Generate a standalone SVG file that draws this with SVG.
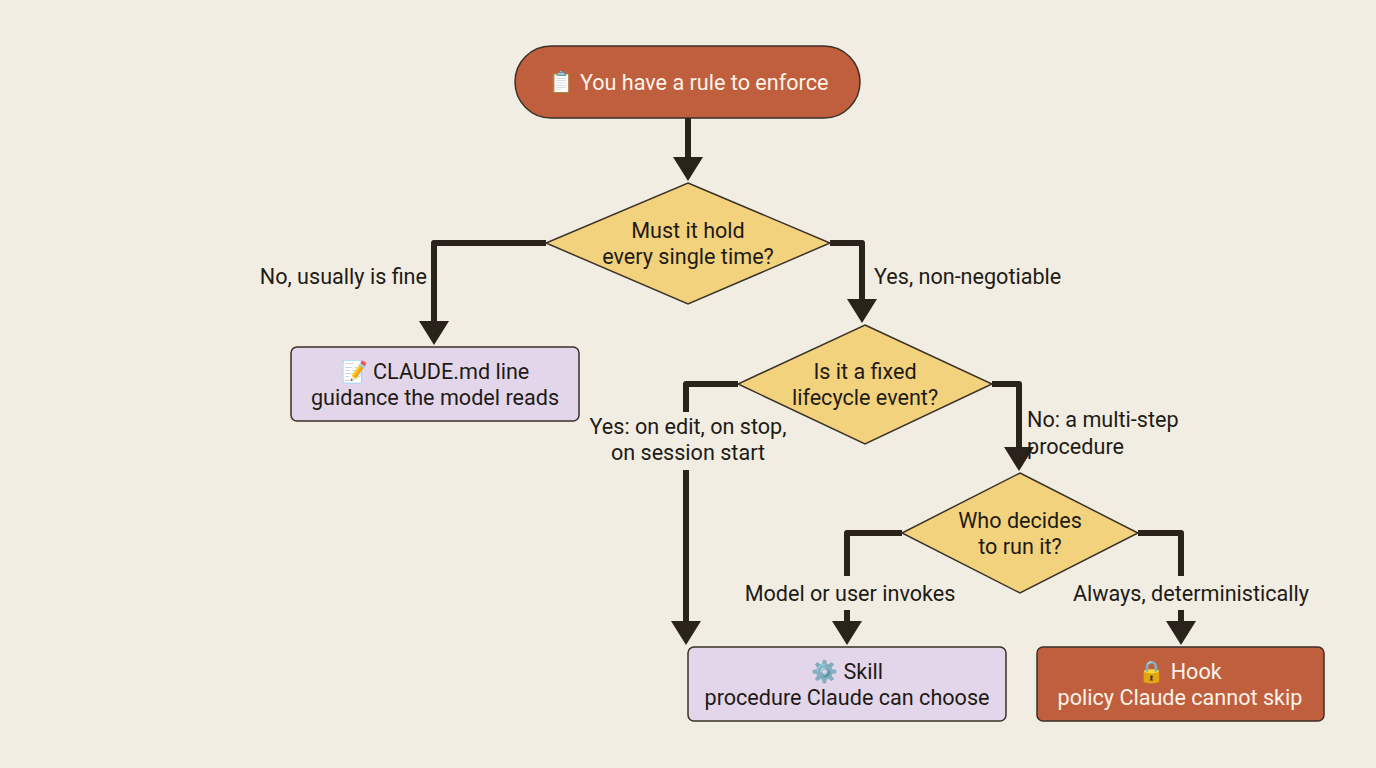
<svg xmlns="http://www.w3.org/2000/svg" width="1376" height="768" viewBox="0 0 1376 768">
<style>
text{font-family:Roboto,"Noto Sans",sans-serif;font-size:21.6px;fill:#1e1b16}
.w{fill:#fbf3ea}
.c{text-anchor:middle}
.dia{fill:#f3d27e;stroke:#3a3128;stroke-width:1.5}
.pur{fill:#e4d6ea;stroke:#3a3128;stroke-width:1.5}
.org{fill:#c05f3d;stroke:#3a3128;stroke-width:1.5}
.ln{fill:none;stroke:#2a231c;stroke-width:6;stroke-linejoin:round}
</style>
<defs><marker id="a" markerWidth="5" markerHeight="5" refX="1" refY="2.5" orient="auto" markerUnits="strokeWidth"><path d="M0,0 L4,2.5 L0,5 Z" fill="#2a231c"/></marker></defs>
<rect width="1376" height="768" fill="#f2ede2"/>
<g id="connectors">
<path class="ln" d="M688,118 V163" marker-end="url(#a)"/>
<path class="ln" d="M546,243 H434 V327" marker-end="url(#a)"/>
<path class="ln" d="M830,243 H862 V305" marker-end="url(#a)"/>
<path class="ln" d="M738,384 H686 V412"/>
<path class="ln" d="M686,470 V627" marker-end="url(#a)"/>
<path class="ln" d="M992,384 H1019 V453" marker-end="url(#a)"/>
<path class="ln" d="M902,533 H847 V576"/>
<path class="ln" d="M847,610 V627" marker-end="url(#a)"/>
<path class="ln" d="M1138,533 H1181 V576"/>
<path class="ln" d="M1181,610 V627" marker-end="url(#a)"/>
<text x="427" y="284" text-anchor="end">No, usually is fine</text>
<text x="874" y="284">Yes, non-negotiable</text>
<text x="688" y="434" class="c">Yes: on edit, on stop,</text>
<text x="688" y="460" class="c">on session start</text>
<text x="1027" y="427">No: a multi-step</text>
<text x="1027" y="454">procedure</text>
<text x="850" y="601" class="c">Model or user invokes</text>
<text x="1191" y="601" class="c">Always, deterministically</text>
</g>
<g id="start"><rect x="515" y="46" width="345" height="72" rx="36" class="org"/><text x="688" y="90" class="c w">📋 You have a rule to enforce</text></g>
<g id="d1"><path d="M688,183 L830,243 L688,304 L546,243 Z" class="dia"/><text x="688" y="238" class="c">Must it hold</text><text x="688" y="264" class="c">every single time?</text></g>
<g id="claude"><rect x="291" y="347" width="288" height="74" rx="6" class="pur"/><text x="435" y="379" class="c">📝 CLAUDE.md line</text><text x="435" y="405" class="c">guidance the model reads</text></g>
<g id="d2"><path d="M865,325 L992,384 L865,444 L738,384 Z" class="dia"/><text x="865" y="379" class="c">Is it a fixed</text><text x="865" y="405" class="c">lifecycle event?</text></g>
<g id="d3"><path d="M1020,473 L1138,533 L1020,593 L902,533 Z" class="dia"/><text x="1020" y="528" class="c">Who decides</text><text x="1020" y="554" class="c">to run it?</text></g>
<g id="skill"><rect x="688" y="647" width="318" height="74" rx="6" class="pur"/><text x="847" y="679" class="c">⚙️ Skill</text><text x="847" y="705" class="c">procedure Claude can choose</text></g>
<g id="hook"><rect x="1037" y="647" width="287" height="74" rx="6" class="org"/><text x="1180" y="679" class="c w">🔒 Hook</text><text x="1180" y="705" class="c w">policy Claude cannot skip</text></g>
</svg>
